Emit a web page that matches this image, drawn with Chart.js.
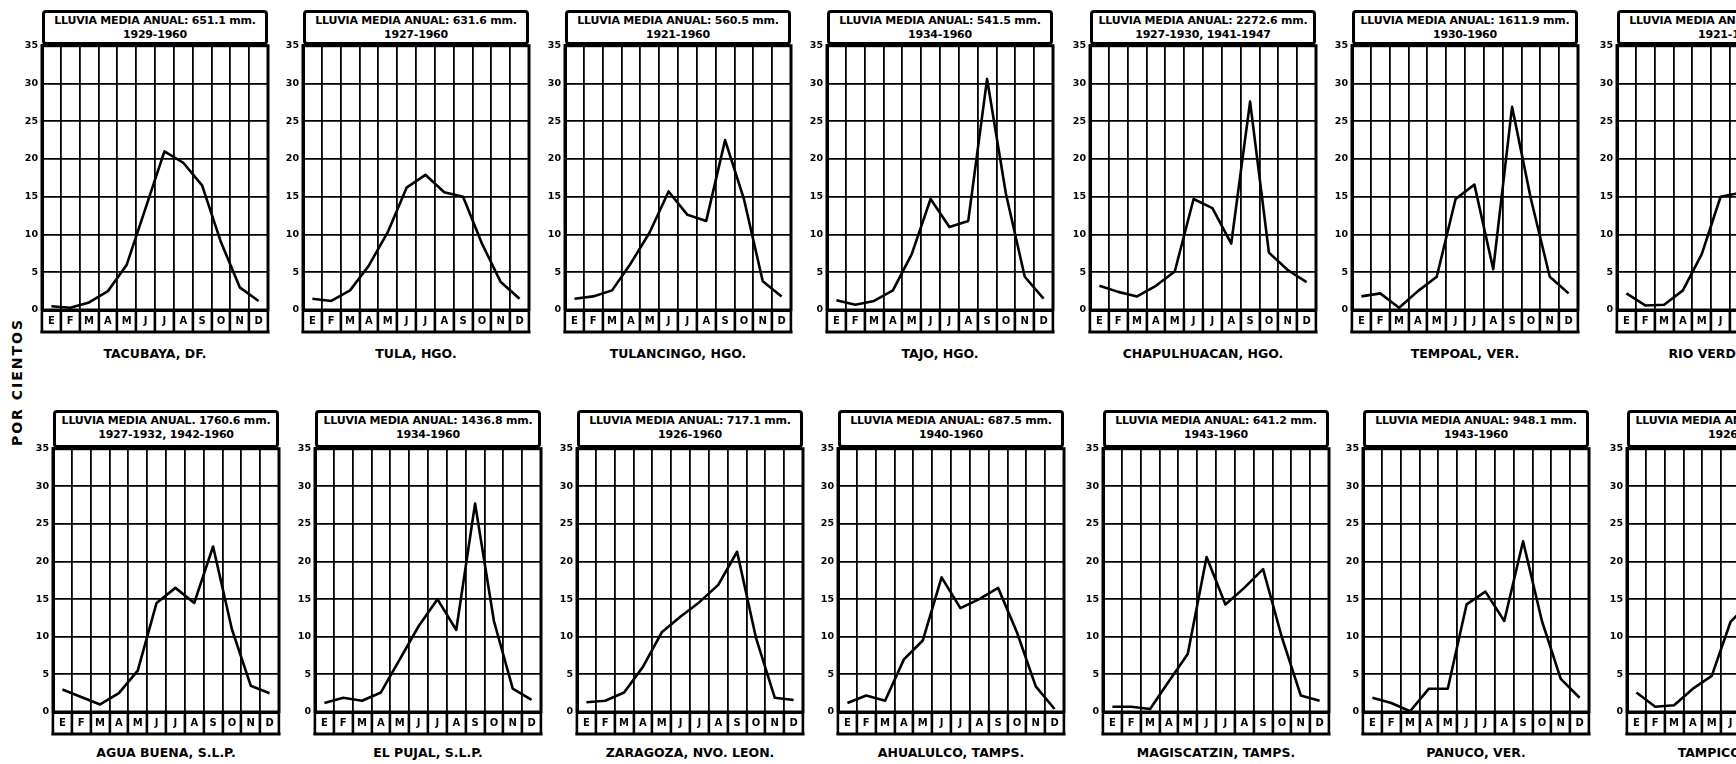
<!DOCTYPE html>
<html>
<head>
<meta charset="utf-8">
<script src="https://cdn.jsdelivr.net/npm/chart.js@4.4.0/dist/chart.umd.min.js"></script>
<style>
  html, body { margin:0; padding:0; background:#fff; }
  body { width:1736px; height:764px; overflow:hidden; position:relative; font-family:"DejaVu Sans", sans-serif; color:#000; }
  .hdr { position:absolute; box-sizing:border-box; border:3px solid #000; border-radius:4px; background:#fff;
         text-align:center; font-weight:bold; font-size:11px; line-height:14px; padding-top:1px; white-space:nowrap; overflow:hidden;
         letter-spacing:-0.2px; }
  .name { position:absolute; text-align:center; font-weight:bold; font-size:12.5px; white-space:nowrap; }
  .ytitle { position:absolute; font-weight:bold; font-size:14px; letter-spacing:2px; white-space:nowrap;
            transform:translate(-50%,-50%) rotate(-90deg); }
  canvas { position:absolute; }
</style>
</head>
<body>
<div class="ytitle" style="left:17px; top:382px;">POR CIENTOS</div>
<script>
// Monthly share of the annual rainfall (per cent), one series per station.
const months = ['E','F','M','A','M','J','J','A','S','O','N','D'];
const yTickStep = 5;
const yMax = 35;

const stationNames = [
  'TACUBAYA, DF.', 'TULA, HGO.', 'TULANCINGO, HGO.', 'TAJO, HGO.', 'CHAPULHUACAN, HGO.', 'TEMPOAL, VER.', 'RIO VERDE, S.L.P.',
  'AGUA BUENA, S.L.P.', 'EL PUJAL, S.L.P.', 'ZARAGOZA, NVO. LEON.', 'AHUALULCO, TAMPS.', 'MAGISCATZIN, TAMPS.', 'PANUCO, VER.', 'TAMPICO, TAMPS.'
];
const rainLabels = [
  'LLUVIA MEDIA ANUAL: 651.1 mm.', 'LLUVIA MEDIA ANUAL: 631.6 mm.', 'LLUVIA MEDIA ANUAL: 560.5 mm.', 'LLUVIA MEDIA ANUAL: 541.5 mm.',
  'LLUVIA MEDIA ANUAL: 2272.6 mm.', 'LLUVIA MEDIA ANUAL: 1611.9 mm.', 'LLUVIA MEDIA ANUAL: 503.4 mm.',
  'LLUVIA MEDIA ANUAL. 1760.6 mm.', 'LLUVIA MEDIA ANUAL: 1436.8 mm.', 'LLUVIA MEDIA ANUAL: 717.1 mm.', 'LLUVIA MEDIA ANUAL: 687.5 mm.',
  'LLUVIA MEDIA ANUAL: 641.2 mm.', 'LLUVIA MEDIA ANUAL: 948.1 mm.', 'LLUVIA MEDIA ANUAL: 1094.3 mm.'
];
const periodLabels = [
  '1929-1960', '1927-1960', '1921-1960', '1934-1960', '1927-1930, 1941-1947', '1930-1960', '1921-1960',
  '1927-1932, 1942-1960', '1934-1960', '1926-1960', '1940-1960', '1943-1960', '1943-1960', '1926-1960'
];

const tacubaya     = [0.5, 0.3, 1.0, 2.5, 6.0, 13.5, 21.0, 19.5, 16.5, 9.0, 3.0, 1.2];
const tula         = [1.5, 1.2, 2.6, 5.9, 10.3, 16.2, 17.9, 15.6, 15.0, 8.8, 3.7, 1.5];
const tulancingo   = [1.5, 1.8, 2.6, 6.2, 10.3, 15.7, 12.6, 11.8, 22.5, 14.7, 3.8, 1.8];
const tajo         = [1.3, 0.7, 1.2, 2.6, 7.4, 14.7, 11.0, 11.8, 30.6, 15.4, 4.4, 1.5];
const chapulhuacan = [3.2, 2.4, 1.8, 3.2, 5.1, 14.7, 13.5, 8.8, 27.6, 7.6, 5.3, 3.7];
const tempoal      = [1.8, 2.2, 0.3, 2.5, 4.4, 14.7, 16.6, 5.4, 26.9, 14.7, 4.4, 2.2];
const rioVerde     = [2.2, 0.6, 0.7, 2.6, 7.4, 15.0, 15.5, 13.0, 24.0, 12.0, 4.0, 2.0];
const aguaBuena    = [3.0, 2.0, 1.0, 2.5, 5.5, 14.5, 16.5, 14.5, 22.0, 11.0, 3.5, 2.5];
const elPujal      = [1.2, 1.9, 1.5, 2.6, 7.0, 11.4, 15.0, 10.9, 27.7, 12.1, 3.1, 1.6];
const zaragoza     = [1.3, 1.5, 2.6, 6.0, 10.6, 12.7, 14.6, 16.9, 21.3, 9.9, 1.9, 1.6];
const ahualulco    = [1.2, 2.2, 1.5, 7.0, 9.5, 17.9, 13.8, 15.0, 16.5, 10.6, 3.4, 0.4];
const magiscatzin  = [0.7, 0.7, 0.4, 4.1, 7.7, 20.6, 14.3, 16.5, 19.0, 9.9, 2.2, 1.5];
const panuco       = [1.9, 1.2, 0.1, 3.1, 3.1, 14.3, 16.0, 12.1, 22.7, 12.1, 4.4, 1.9];
const tampico      = [2.6, 0.7, 0.9, 3.1, 4.8, 12.0, 14.5, 11.0, 23.0, 13.0, 4.0, 2.5];

const seriesList = [tacubaya, tula, tulancingo, tajo, chapulhuacan, tempoal, rioVerde,
                    aguaBuena, elPujal, zaragoza, ahualulco, magiscatzin, panuco, tampico];

// panel placement (plot-area left edge) for the two rows
const rowTop = [
  { hdrTop:10,  hdrH:35, plotTop:44,  plotBottom:310, lefts:[42, 303, 565, 827, 1090, 1352, 1617], w:226, nameTop:346 },
  { hdrTop:410, hdrH:38, plotTop:447, plotBottom:712, lefts:[53, 315, 577, 838, 1103, 1363, 1627], w:226, nameTop:745 }
];
const STRIP = 23, YW = 26, PT = 8, PR = 6, PB = 3;

const framePlugin = {
  id: 'frame',
  afterDraw(chart) {
    const { ctx, chartArea: a } = chart;
    ctx.save();
    ctx.strokeStyle = '#000';
    ctx.lineWidth = 3;
    ctx.strokeRect(a.left, a.top, a.right - a.left, a.bottom - a.top);
    ctx.beginPath();
    ctx.moveTo(a.left - 1.5, a.bottom + STRIP - 1);
    ctx.lineTo(a.right + 1.5, a.bottom + STRIP - 1);
    ctx.stroke();
    ctx.restore();
  }
};

function addDiv(cls, style, html) {
  const d = document.createElement('div');
  d.className = cls;
  Object.assign(d.style, style);
  d.innerHTML = html;
  document.body.appendChild(d);
  return d;
}

seriesList.forEach((values, i) => {
  const row = rowTop[Math.floor(i / 7)];
  const L = row.lefts[i % 7];
  const W = row.w;
  const plotH = row.plotBottom - row.plotTop;

  const cv = document.createElement('canvas');
  const cw = W + YW + PR, ch = plotH + PT + STRIP + PB;
  cv.width = cw; cv.height = ch;
  cv.style.left = (L - YW) + 'px';
  cv.style.top = (row.plotTop - PT) + 'px';
  cv.style.width = cw + 'px'; cv.style.height = ch + 'px';
  document.body.appendChild(cv);

  addDiv('hdr', { left: L + 'px', top: row.hdrTop + 'px', width: W + 'px', height: row.hdrH + 'px' },
         rainLabels[i] + '<br>' + periodLabels[i]);
  addDiv('name', { left: L + 'px', top: row.nameTop + 'px', width: W + 'px' }, stationNames[i]);

  new Chart(cv, {
    type: 'line',
    data: {
      labels: months,
      datasets: [{
        data: values,
        borderColor: '#000',
        borderWidth: 2.6,
        pointRadius: 0,
        tension: 0,
        borderJoinStyle: 'round',
        clip: false
      }]
    },
    options: {
      responsive: false,
      animation: false,
      devicePixelRatio: 1,
      layout: { padding: { top: PT, right: PR, bottom: PB, left: 0 } },
      plugins: { legend: { display: false }, tooltip: { enabled: false }, title: { display: false } },
      scales: {
        x: {
          type: 'category',
          offset: true,
          border: { color: '#000', width: 3 },
          grid: { offset: true, color: '#000', lineWidth: 1.8, tickLength: STRIP, drawTicks: true, tickWidth: 2.6, tickColor: '#000' },
          ticks: { autoSkip: false, maxRotation: 0, padding: -18, color: '#000',
                   font: { family: 'DejaVu Sans', weight: 'bold', size: 10 } },
          afterFit(s) { s.height = STRIP; }
        },
        y: {
          min: 0, max: yMax,
          border: { color: '#000', width: 3 },
          grid: { color: '#000', lineWidth: 1.8, drawTicks: false },
          ticks: { stepSize: yTickStep, padding: 4, color: '#000',
                   font: { family: 'DejaVu Sans', weight: 'bold', size: 9.5 } },
          afterFit(s) { s.width = YW; }
        }
      }
    },
    plugins: [framePlugin]
  });
});
</script>
</body>
</html>
